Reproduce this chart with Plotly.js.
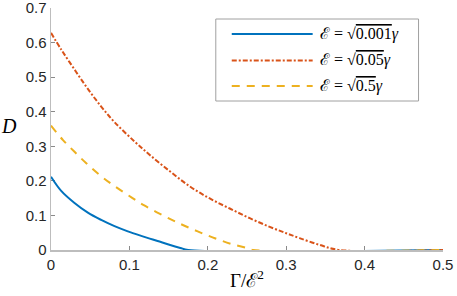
<!DOCTYPE html>
<html>
<head>
<meta charset="utf-8">
<script src="https://cdn.plot.ly/plotly-3.0.1.min.js"></script>
<style>html,body{margin:0;padding:0;background:#fff}#chart{width:457px;height:296px}</style>
</head>
<body>
<div id="chart"></div>
<script>
// Series 1: E = sqrt(0.001) gamma
const x1 = [0, 0.013, 0.030, 0.047, 0.064, 0.081, 0.098, 0.115, 0.126, 0.136, 0.152, 0.165, 0.175, 0.5];
const d1 = [0.212, 0.171, 0.136, 0.108, 0.087, 0.069, 0.054, 0.041, 0.033, 0.026, 0.0145, 0.006, 0, 0];
// Series 2: E = sqrt(0.05) gamma
const x2 = [0, 0.013, 0.03, 0.047, 0.064, 0.081, 0.107, 0.126, 0.152, 0.177, 0.2025, 0.228, 0.2535, 0.279, 0.30, 0.317, 0.343, 0.368, 0.5];
const d2 = [0.628, 0.580, 0.522, 0.466, 0.415, 0.370, 0.313, 0.275, 0.227, 0.184, 0.149, 0.120, 0.092, 0.067, 0.0485, 0.0345, 0.0145, 0, 0];
// Series 3: E = sqrt(0.5) gamma
const x3 = [0, 0.0153, 0.030, 0.045, 0.062, 0.079, 0.098, 0.119, 0.1516, 0.171, 0.19, 0.209, 0.230, 0.251, 0.258, 0.5];
const d3 = [0.360, 0.318, 0.284, 0.251, 0.217, 0.188, 0.159, 0.129, 0.090, 0.0694, 0.051, 0.034, 0.0174, 0.005, 0, 0];

const names = ['ℰ = √<span style="text-decoration:overline">0.001</span><i>γ</i>',
               'ℰ = √<span style="text-decoration:overline">0.05</span><i>γ</i>',
               'ℰ = √<span style="text-decoration:overline">0.5</span><i>γ</i>'];
const colors = ['#0072BD', '#D95319', '#EDB120'];
const dashes = ['solid', '5px,2px,2px,2px', '8px,7px'];
const xTicks = [0, 0.1, 0.2, 0.3, 0.4, 0.5];
const xTickText = ['0', '0.1', '0.2', '0.3', '0.4', '0.5'];
const yTicks = [0, 0.1, 0.2, 0.3, 0.4, 0.5, 0.6, 0.7];
const yTickText = ['0', '0.1', '0.2', '0.3', '0.4', '0.5', '0.6', '0.7'];

const xs = [x1, x2, x3], ds = [d1, d2, d3];
const traces = xs.map((x, i) => ({
  x: x, y: ds[i], type: 'scatter', mode: 'lines', name: names[i],
  line: {color: colors[i], width: 2, dash: dashes[i], shape: 'spline', smoothing: 1.0},
  cliponaxis: false, showlegend: false, hoverinfo: 'skip'
}));

// manual legend (MATLAB style long line samples)
const lx0 = 0.4611, lx1 = 0.6675, ltx = 0.6803;
const rowsY = [0.8926, 0.7831, 0.6777];
const shapes = [{type: 'rect', xref: 'paper', yref: 'paper', x0: 0.4204, x1: 0.9376, y0: 0.6157, y1: 0.9545,
  line: {color: '#a0a0a0', width: 1}, fillcolor: 'rgba(255,255,255,1)', layer: 'above'}];
const annotations = [];
rowsY.forEach((yy, i) => {
  shapes.push({type: 'line', xref: 'paper', yref: 'paper', x0: lx0, x1: lx1, y0: yy, y1: yy,
    line: {color: colors[i], width: 2, dash: dashes[i]}, layer: 'above'});
  annotations.push({xref: 'paper', yref: 'paper', x: ltx, y: yy, xanchor: 'left', yanchor: 'middle',
    text: names[i], showarrow: false, font: {family: 'Liberation Serif', size: 16, color: '#000'}});
});
annotations.push({xref: 'paper', yref: 'paper', x: -0.106, y: 0.512, xanchor: 'center', yanchor: 'middle',
  text: '<i>D</i>', showarrow: false, font: {family: 'Liberation Serif', size: 20, color: '#000'}});

const axisCommon = {
  showline: true, linecolor: '#bdbdbd', linewidth: 1.5, ticks: 'inside', ticklen: 4,
  tickcolor: '#8a8a8a', tickwidth: 1, showgrid: false, zeroline: false, layer: 'below traces',
  tickfont: {family: 'Liberation Sans', size: 15, color: '#262626'}, mirror: false,
  ticklabeloverflow: 'allow'
};

const layout = {
  width: 457, height: 296,
  margin: {l: 51, r: 13.5, t: 8, b: 46},
  paper_bgcolor: '#fff', plot_bgcolor: '#fff',
  xaxis: Object.assign({}, axisCommon, {range: [0, 0.5], tickvals: xTicks, ticktext: xTickText,
    title: {text: 'Γ/ℰ<sup>2</sup>', font: {family: 'Liberation Serif', size: 19, color: '#000'}, standoff: 2}}),
  yaxis: Object.assign({}, axisCommon, {range: [0, 0.7], tickvals: yTicks, ticktext: yTickText}),
  shapes: shapes, annotations: annotations, showlegend: false
};

Plotly.newPlot('chart', traces, layout, {displayModeBar: false, staticPlot: true});
</script>
</body>
</html>
